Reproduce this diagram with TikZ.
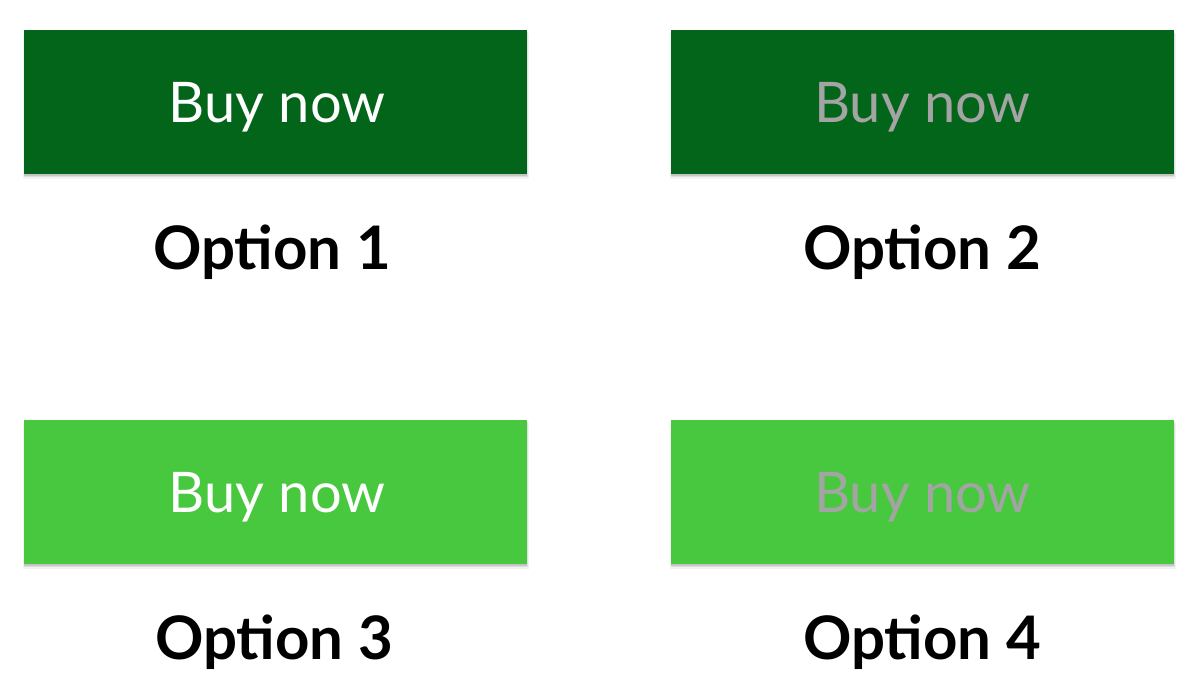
\documentclass[tikz,border=0pt]{standalone}
\usepackage{fontspec}
\setmainfont{Lato}
\definecolor{darkgrn}{HTML}{03651A}
\definecolor{lightgrn}{HTML}{48C83F}
\definecolor{dimtxt}{HTML}{A4A4A4}
\tikzset{
  btn/.style={minimum width=251.5pt, minimum height=72pt, inner sep=0pt},
  btntxt/.style={inner sep=0pt, font=\fontsize{28}{30}\selectfont},
  lbl/.style={inner sep=0pt, font=\bfseries\fontsize{30}{32}\selectfont, text=black},
  shd/.style={fill=black, opacity=#1}
}
\begin{document}
\begin{tikzpicture}[x=0.5pt,y=-0.5pt]
\useasboundingbox (0,0) rectangle (1200,697);
\foreach \x/\y in {24/30,671/30,24/420,671/420}{
  \fill[shd=0.05] (\x-1,\y+3) rectangle (\x+505,\y+149);
  \fill[shd=0.08] (\x,\y+2) rectangle (\x+504,\y+147);
  \fill[shd=0.12] (\x,\y+1) rectangle (\x+503,\y+146);
}
\node[btn, fill=darkgrn] (b1) at (275.5,102) {};
\node[btn, fill=darkgrn] (b2) at (922.5,102) {};
\node[btn, fill=lightgrn] (b3) at (275.5,492) {};
\node[btn, fill=lightgrn] (b4) at (922.5,492) {};
\node[btntxt, text=white, anchor=base] (t1) at (277,122) {Buy now};
\node[btntxt, text=dimtxt, anchor=base] (t2) at (922.5,122) {Buy now};
\node[btntxt, text=white, anchor=base] (t3) at (277,512) {Buy now};
\node[btntxt, text=dimtxt, anchor=base] (t4) at (922.5,512) {Buy now};
\node[lbl, anchor=base] (l1) at (272,269) {Option 1};
\node[lbl, anchor=base] (l2) at (922,269) {Option 2};
\node[lbl, anchor=base] (l3) at (274,659) {Option 3};
\node[lbl, anchor=base] (l4) at (922,659) {Option 4};
\end{tikzpicture}
\end{document}
